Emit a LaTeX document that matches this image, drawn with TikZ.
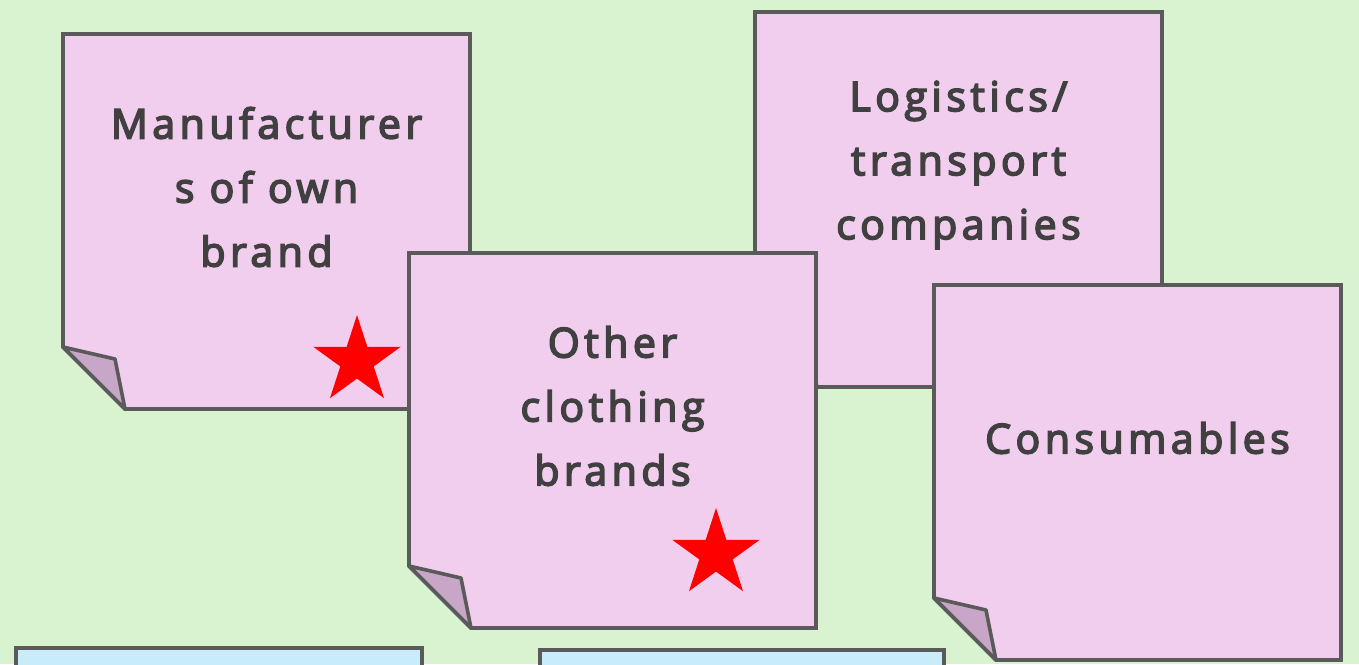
\documentclass[tikz,border=0pt]{standalone}
\usepackage{fontspec}
\setsansfont{Open Sans}[LetterSpace=11, FakeBold=4]
\usetikzlibrary{shapes.geometric, positioning}
\definecolor{bggreen}{HTML}{D9F2D0}
\definecolor{notepink}{HTML}{F2CEEE}
\definecolor{foldpink}{HTML}{C8A6C8}
\definecolor{noteline}{HTML}{5A5A5A}
\definecolor{noteblue}{HTML}{C8ECFA}
\definecolor{notetext}{HTML}{404040}

% sticky note: name, left, top, text
\newcommand{\stickynote}[4]{%
  \filldraw[notebody] (#2,#3) -- ++(407,0) -- ++(0,375) -- ++(-345,0) -- ++(-62,-62) -- cycle;
  \filldraw[notefold] (#2,#3+313) -- ++(52,12) -- ++(10,50) -- cycle;
  \node[notetxt] (#1) at (#2+203.5,#3+153) {#4};
}

\begin{document}
\begin{tikzpicture}[
    x=1pt, y=-1pt,
    notebody/.style={fill=notepink, draw=noteline, line width=3.6pt, line join=miter},
    notefold/.style={fill=foldpink, draw=noteline, line width=3.6pt, line join=round},
    notetxt/.style={align=center, text=notetext, inner sep=0pt,
                    font=\sffamily\fontsize{41}{64}\selectfont},
    bluenote/.style={fill=noteblue, draw=noteline, line width=3.6pt},
    redstar/.style={star, star points=5, star point ratio=2.618, fill=red,
                    minimum size=92pt, inner sep=0pt}
]
    \fill[bggreen] (0,0) rectangle (1359,664);
    \clip (0,0) rectangle (1359,664);

    \stickynote{manuf}{63}{34}{Manufacturer\\s of own\\brand}
    \node[redstar] (star1) at (357,361) {};
    \stickynote{logist}{755}{12}{Logistics/\\transport\\companies}
    \stickynote{brands}{409}{253}{Other\\clothing\\brands}
    \node[redstar] (star2) at (716,554) {};
    \stickynote{consum}{934}{285}{Consumables}

    \filldraw[bluenote] (16,648) rectangle (422,700);
    \filldraw[bluenote] (540,650) rectangle (944,700);
\end{tikzpicture}
\end{document}
